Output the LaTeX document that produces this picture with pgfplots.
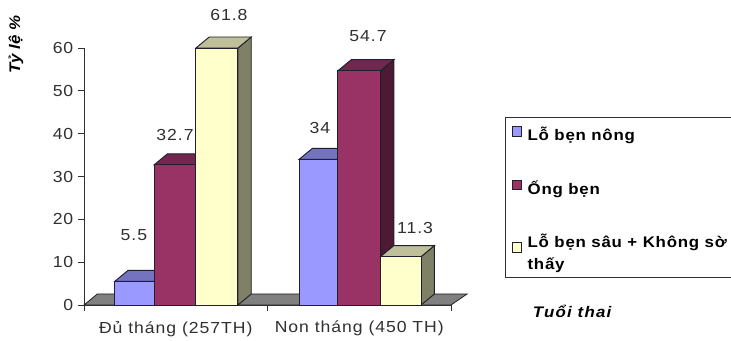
\documentclass[border=0pt]{standalone}
\usepackage{fontspec}
\setmainfont{Liberation Sans}
% wide, evenly tracked faces for the chart's labels
\newfontfamily\chartfont{Liberation Sans}[FakeStretch=1.1,LetterSpace=6]
\newfontfamily\legendfont{Liberation Sans}[FakeStretch=1.1,LetterSpace=5]
\newfontfamily\titlefont{Liberation Sans}[FakeStretch=1.1]
\newfontfamily\notefont{Liberation Sans}[FakeStretch=1.1,LetterSpace=8]
\usepackage{pgfplots}
\pgfplotsset{compat=1.18}

% Excel-style shading: front face, top face (75%), side face (50%)
\definecolor{blueF}{HTML}{9999FF}\definecolor{blueT}{HTML}{7373BF}\definecolor{blueS}{HTML}{4D4D80}
\definecolor{plumF}{HTML}{993366}\definecolor{plumT}{HTML}{732650}\definecolor{plumS}{HTML}{4D1933}
\definecolor{creamF}{HTML}{FFFFCC}\definecolor{creamT}{HTML}{BFBF99}\definecolor{creamS}{HTML}{808066}
\definecolor{edge}{HTML}{20202A}
\definecolor{ink}{HTML}{303030}

% depth of the pseudo-3D extrusion, in data units
\def\dx{0.0725}
\def\dy{2.57}

% #1 left, #2 right, #3 value, #4 colour stem, #5 label x, #6 label lift above the bar top
\newcommand{\threedbar}[6]{%
  \pgfmathsetmacro\ytop{min(#3,60)}%
  \pgfmathsetmacro\ytopb{\ytop+\dy}%
  \pgfmathsetmacro\xlb{#1+\dx}%
  \pgfmathsetmacro\xrb{#2+\dx}%
  \pgfmathsetmacro\ylab{\ytop+#6}%
  \addplot[forget plot,draw=edge,line width=0.7pt,fill=#4S] coordinates {(#2,0) (\xrb,\dy) (\xrb,\ytopb) (#2,\ytop)} --cycle;
  \addplot[forget plot,draw=edge,line width=0.7pt,fill=#4T] coordinates {(#1,\ytop) (\xlb,\ytopb) (\xrb,\ytopb) (#2,\ytop)} --cycle;
  \addplot[forget plot,draw=edge,line width=0.7pt,fill=#4F] coordinates {(#1,0) (#1,\ytop) (#2,\ytop) (#2,0)} --cycle;
  \addplot[forget plot,draw=none,mark=none,point meta=explicit symbolic,nodes near coords,
    every node near coord/.style={anchor=center,inner sep=0pt,font=\chartfont\fontsize{12}{14}\selectfont,text=ink}]
    coordinates {(#5,\ylab) [#3]};
}

\begin{document}
\begin{tikzpicture}
\path[use as bounding box] (-63pt,-26.25pt) rectangle (485.25pt,228.75pt);
\begin{axis}[
  scale only axis, width=275.25pt, height=192.75pt,
  xmin=0, xmax=2, ymin=0, ymax=60, clip=false,
  axis lines=left,
  axis line style={-,draw=ink,line width=0.7pt},
  tick style={draw=ink,line width=0.7pt},
  tick align=outside, major tick length=4.5pt,
  ytick={0,10,...,60},
  xtick={0,1,2}, xticklabels={},
  extra x ticks={0.5,1.5},
  extra x tick labels={Đủ tháng (257TH),Non tháng (450 TH)},
  extra x tick style={major tick length=0pt,tick label style={yshift=-8.5pt}},
  tick label style={font=\chartfont\fontsize{12}{14}\selectfont,text=ink},
  /pgf/number format/assume math mode=true,
  ylabel={Tỷ lệ \%},
  ylabel style={at={(axis description cs:-0.185,1.012)},anchor=center,rotate=0,
    font=\titlefont\fontsize{11.5}{13}\selectfont\bfseries\itshape,text=black},
  xlabel={Tuổi thai},
  xlabel style={at={(axis description cs:1.33,-0.023)},anchor=center,
    font=\notefont\fontsize{11.5}{13}\selectfont\bfseries\itshape,text=black},
  legend cell align=left,
  legend style={at={(axis description cs:1.147,0.7315)},anchor=north west,
    draw=ink,line width=0.8pt,inner xsep=5pt,inner ysep=5pt,column sep=2pt,
    nodes={text depth=},
    font=\legendfont\fontsize{11.5}{16}\selectfont\bfseries,
    row sep=23.6pt},
  legend image code/.code={\draw[#1,draw=edge,line width=0.6pt] (0pt,-0.6pt) rectangle (7pt,6.4pt);},
]
% floor of the chart
\addplot[forget plot,draw=edge,line width=0.6pt,fill=gray] coordinates {(0,0) (0.0725,2.57) (2.0875,2.57) (2,0)} --cycle;

\threedbar{0.167}{0.3815}{5.5}{blue}{0.272}{10.8}
\threedbar{0.3815}{0.610}{32.7}{plum}{0.496}{6.9}
\threedbar{0.610}{0.839}{61.8}{cream}{0.790}{7.7}
\threedbar{1.172}{1.384}{34}{blue}{1.286}{7.3}
\threedbar{1.384}{1.616}{54.7}{plum}{1.548}{8.1}
\threedbar{1.616}{1.837}{11.3}{cream}{1.804}{6.7}

\addlegendimage{fill=blueF}
\addlegendentry{Lỗ bẹn nông}
\addlegendimage{fill=plumF}
\addlegendentry{Ống bẹn}
\addlegendimage{fill=creamF}
\addlegendentry{\parbox[t]{200pt}{Lỗ bẹn sâu + Không sờ\\thấy\par\vspace{-3.2pt}}}
\end{axis}
\end{tikzpicture}
\end{document}
